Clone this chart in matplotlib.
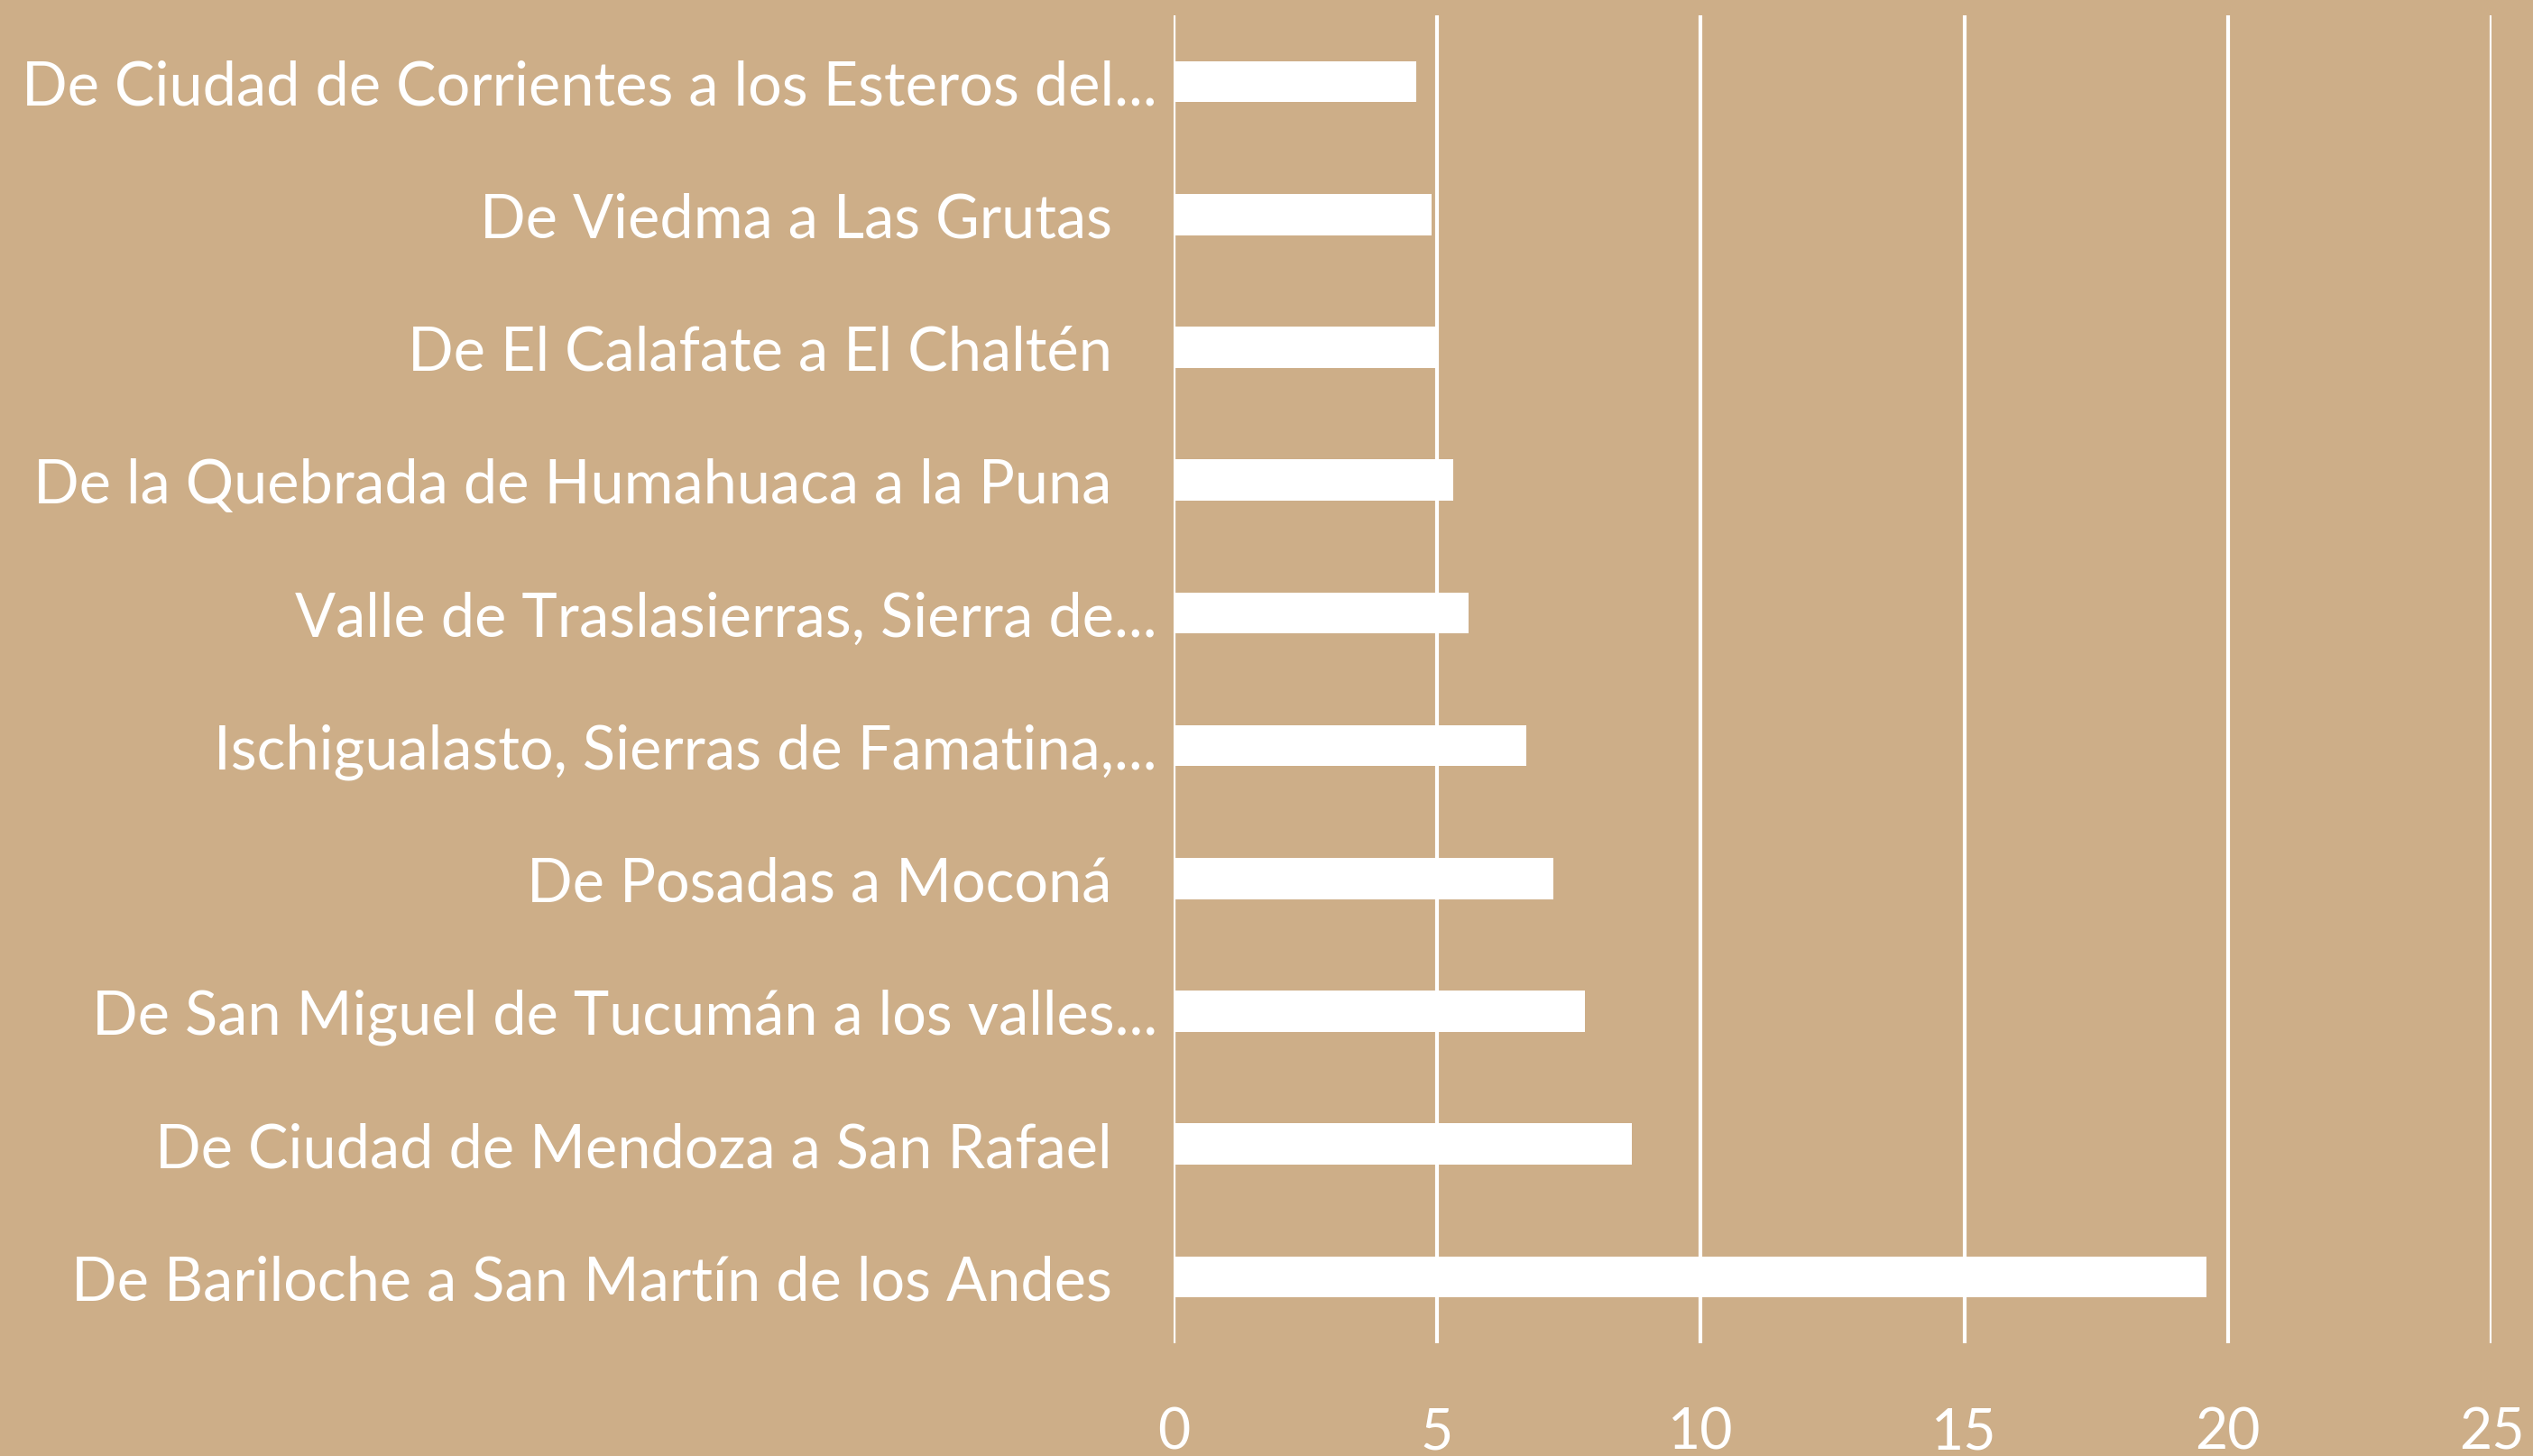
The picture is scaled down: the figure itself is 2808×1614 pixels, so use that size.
import matplotlib
matplotlib.use("Agg")
import matplotlib.pyplot as plt

# Data (top to bottom as displayed)
categories = [
    "De Ciudad de Corrientes a los Esteros del...",
    "De Viedma a Las Grutas",
    "De El Calafate a El Chaltén",
    "De la Quebrada de Humahuaca a la Puna",
    "Valle de Traslasierras, Sierra de...",
    "Ischigualasto, Sierras de Famatina,...",
    "De Posadas a Moconá",
    "De San Miguel de Tucumán a los valles...",
    "De Ciudad de Mendoza a San Rafael",
    "De Bariloche a San Martín de los Andes",
]
values = [4.6, 4.9, 5.0, 5.3, 5.6, 6.7, 7.2, 7.8, 8.7, 19.6]
xticks = [0, 5, 10, 15, 20, 25]

BG = "#CDAE88"
FONT = "Lato"

def pad_label(s):
    # untruncated labels carry trailing spaces, as in the original
    return s if s.endswith("...") else s + "\u2002\u00a0"

fig = plt.figure(figsize=(28.08, 16.15), dpi=100, facecolor=BG)
ax = fig.add_axes([0.4633, 0.0774, 0.5203, 0.9115], facecolor=BG)

ypos = list(range(len(categories)))
ax.barh(ypos, values, height=0.31, color="white", zorder=3)
ax.set_ylim(len(categories) - 0.5, -0.5)
ax.set_xlim(0, 25)
ax.set_xticks(xticks)
ax.set_xticklabels([str(t) for t in xticks])
ax.set_yticks(ypos)
ax.set_yticklabels([pad_label(c) for c in categories])

ax.grid(axis="x", color="white", linewidth=3, zorder=1)
ax.set_axisbelow(True)
for sp in ax.spines.values():
    sp.set_visible(False)
ax.axvline(0, color="white", linewidth=3, zorder=2)

ax.tick_params(axis="y", length=0, pad=13, labelsize=48, labelcolor="white")
ax.tick_params(axis="x", length=0, pad=50, labelsize=45, labelcolor="white")
for lab in ax.get_xticklabels() + ax.get_yticklabels():
    lab.set_fontfamily(FONT)

fig.savefig("out.png", dpi=100, facecolor=BG)
